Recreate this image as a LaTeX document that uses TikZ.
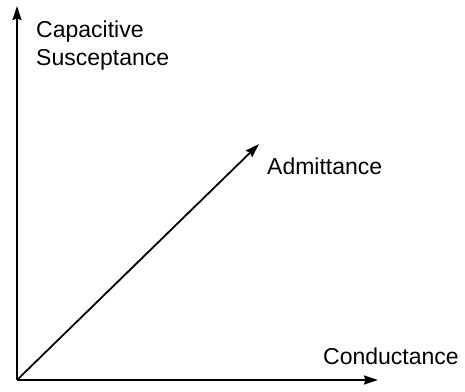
\documentclass[tikz,border=0pt]{standalone}
\usepackage{fontspec}
\setmainfont{Liberation Sans}
\usetikzlibrary{arrows.meta}
\begin{document}
\begin{tikzpicture}[x=1pt,y=-1pt,
  axis/.style={line width=1.8pt,-{Stealth[length=14pt,width=9pt,inset=1.5pt]}},
  lbl/.style={anchor=base west,inner sep=0pt,font=\fontsize{23}{28}\selectfont}]
\useasboundingbox (0,0) rectangle (465,391);
\coordinate (O) at (17,380);
\coordinate (Y) at (17,6);
\coordinate (X) at (378,380);
\coordinate (A) at (259,144);
\draw[axis] (O) -- (Y);
\draw[axis] (O) -- (X);
\draw[axis] (O) -- (A);
\node[lbl] (cap) at (36,37) {Capacitive};
\node[lbl] (sus) at (36,65) {Susceptance};
\node[lbl] (adm) at (267,174) {Admittance};
\node[lbl] (con) at (323,364) {Conductance};
\end{tikzpicture}
\end{document}
